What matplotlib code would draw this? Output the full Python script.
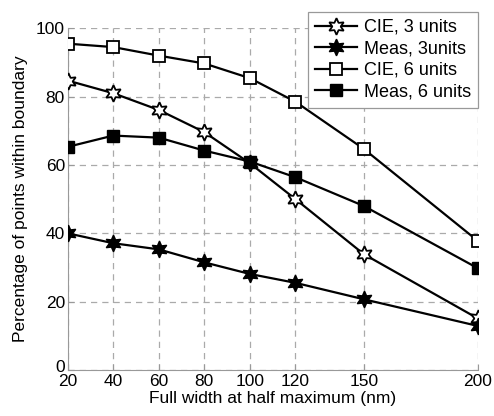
import matplotlib
matplotlib.use("Agg")
import matplotlib.pyplot as plt
import matplotlib.transforms as mtransforms

## Datos
fwhm = [20, 40, 60, 80, 100, 120, 150, 200]
cie_3 = [84.7, 81.0, 76.1, 69.6, 60.5, 50.0, 33.9, 15.1]
meas_3 = [40.0, 37.1, 35.3, 31.5, 28.1, 25.5, 20.7, 12.9]
cie_6 = [95.5, 94.5, 92.0, 89.7, 85.4, 78.5, 64.7, 37.8]
meas_6 = [65.3, 68.6, 68.0, 64.2, 61.0, 56.4, 48.0, 29.8]
x_ticks = [20, 40, 60, 80, 100, 120, 150, 200]
y_ticks = [0, 20, 40, 60, 80, 100]

plt.rcParams['font.family'] = ['Liberation Sans', 'DejaVu Sans']

fig = plt.figure(figsize=(4.94, 4.16), dpi=100)
ax = fig.add_axes([0.137, 0.1106, 0.83, 0.8214])

star = (6, 1, 0)
ax.plot(fwhm, cie_3, color="black", lw=1.6, marker=star, markersize=12,
        markerfacecolor="white", markeredgecolor="black", markeredgewidth=1.3,
        label="CIE, 3 units", zorder=3)
ax.plot(fwhm, meas_3, color="black", lw=1.6, marker=star, markersize=12,
        markerfacecolor="black", markeredgecolor="black",
        label="Meas, 3units", zorder=3)
ax.plot(fwhm, cie_6, color="black", lw=1.6, marker="s", markersize=8,
        markerfacecolor="white", markeredgecolor="black", markeredgewidth=1.3,
        label="CIE, 6 units", zorder=3)
ax.plot(fwhm, meas_6, color="black", lw=1.6, marker="s", markersize=8,
        markerfacecolor="black", markeredgecolor="black",
        label="Meas, 6 units", zorder=3)

ax.set_xlim(20, 200)
ax.set_ylim(0, 100)
ax.set_xticks(x_ticks)
ax.set_yticks(y_ticks)
ax.tick_params(direction="in", length=4, color="#999999", labelsize=12.5, pad=2)
ax.tick_params(axis="x", pad=3)
ax.grid(True, linestyle=(0, (5, 4)), color="#aaaaaa", linewidth=0.9)
for s in ["top", "right"]:
    ax.spines[s].set_visible(False)
for s in ["left", "bottom"]:
    ax.spines[s].set_color("#999999")
ax.set_xlabel("Full width at half maximum (nm)", fontsize=12.5, labelpad=1)
ax.set_ylabel("Percentage of points within boundary", fontsize=12.5, labelpad=6)

# el "0" del eje y queda un poco más arriba, como en la original
fig.canvas.draw()
lbl0 = ax.get_yticklabels()[0]
lbl0.set_transform(lbl0.get_transform() +
                   mtransforms.ScaledTranslation(0, 4 / 100, fig.dpi_scale_trans))

leg = ax.legend(loc="upper right", bbox_to_anchor=(0.9676, 0.972),
                bbox_transform=fig.transFigure, borderaxespad=0, fontsize=13,
                fancybox=False, edgecolor="#999999", framealpha=1,
                handlelength=2.35, labelspacing=0.25, handletextpad=0.35,
                borderpad=0.4)
leg.get_frame().set_linewidth(0.9)

fig.savefig("out.png", dpi=100)
